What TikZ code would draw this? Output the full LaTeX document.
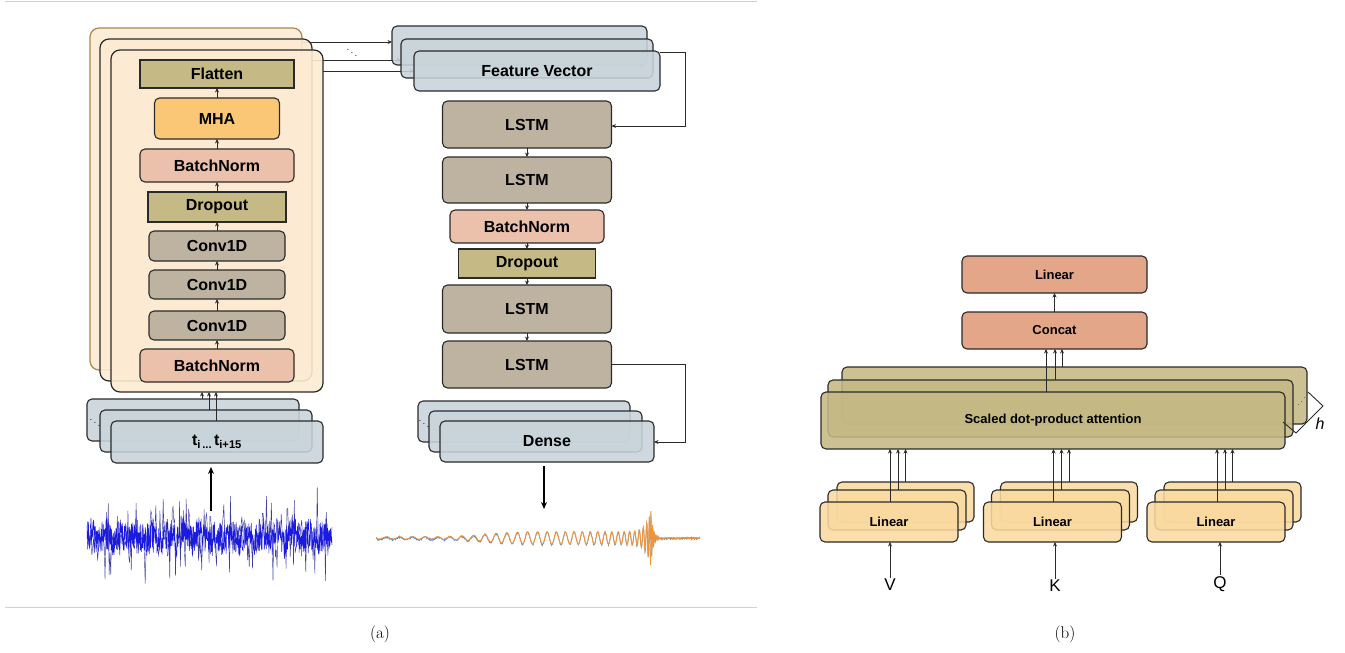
\documentclass[tikz,border=0pt]{standalone}
\usepackage{fontspec}
\newfontfamily\arialf{Liberation Sans}
\usetikzlibrary{arrows.meta,backgrounds}
\definecolor{edge}{HTML}{2A2A2A}
\definecolor{cream}{HTML}{FCEBD2}
\definecolor{cardedge}{HTML}{A88654}
\definecolor{olivebox}{HTML}{C5BA86}
\definecolor{mhacol}{HTML}{F9C776}
\definecolor{bnpink}{HTML}{ECC1AB}
\definecolor{convcol}{HTML}{BDB3A0}
\definecolor{bluegray}{HTML}{C8D3DA}
\definecolor{salmon}{HTML}{E3A689}
\definecolor{attncol}{HTML}{C4B884}
\definecolor{linbox}{HTML}{F9D9A0}
\definecolor{noiseblue}{HTML}{1A1AE0}
\definecolor{noisenavy}{HTML}{3F3FA0}
\definecolor{waveorange}{HTML}{F29335}
\definecolor{waveblue}{HTML}{4A88C8}
\definecolor{framegray}{HTML}{D0D0D0}
\begin{document}
\begin{tikzpicture}[x=1pt,y=-1pt,
  box/.style={draw=edge, line width=1.1pt, rounded corners=5pt, inner sep=0pt, outer sep=0pt,
    text=black, text opacity=1, font=\arialf\bfseries\fontsize{16}{18}\selectfont},
  sqbox/.style={box, rounded corners=0pt},
  stk/.style={box, fill opacity=0.88},
  rbox/.style={box, font=\arialf\bfseries\fontsize{13}{15}\selectfont},
  rstk/.style={rbox, fill opacity=0.88},
  card/.style={draw=edge, line width=1.2pt, rounded corners=9pt, fill=cream, fill opacity=0.9,
    minimum width=212pt, minimum height=342pt, inner sep=0pt, outer sep=0pt},
  arr/.style={-{Stealth[length=4.5pt,width=4pt]}, line width=1pt, draw=edge},
  bigarr/.style={-{Stealth[length=7pt,width=6pt]}, line width=1.7pt, draw=black},
  lbl/.style={font=\arialf\fontsize{17}{20}\selectfont, inner sep=1pt},
  captxt/.style={font=\fontsize{17}{19}\selectfont},
  declare function={chirpA(\x)=1.2+5/(1+exp(-(\x-485)/14))+28*exp(-(652-\x)/5);
                    chirpP(\x)=-6.09*pow(652-\x,0.625);}
]
\useasboundingbox (0,0) rectangle (1345,653);

% frame lines
\draw[framegray, line width=1pt] (5,1) -- (757,1);
\draw[framegray, line width=1pt] (5,607) -- (757,607);

% ---------------- panel (a), left stack ----------------
\node[card, draw=cardedge] (cardA) at (196,199) {};
\node[card] (cardB) at (206,210) {};
\node[card] (cardC) at (217,221) {};

\node[sqbox, fill=olivebox, minimum width=154pt, minimum height=28pt] (flat) at (217,74) {Flatten};
\node[box, fill=mhacol, minimum width=125pt, minimum height=41pt] (mha) at (217,118.5) {MHA};
\node[box, fill=bnpink, minimum width=154pt, minimum height=33pt] (bn1) at (217,165.5) {BatchNorm};
\node[sqbox, fill=olivebox, minimum width=138pt, minimum height=30pt] (dr1) at (217,207) {Dropout};
\node[box, fill=convcol, minimum width=136pt, minimum height=30pt] (cv1) at (217,246) {Conv1D};
\node[box, fill=convcol, minimum width=136pt, minimum height=29pt] (cv2) at (217,284.5) {Conv1D};
\node[box, fill=convcol, minimum width=136pt, minimum height=29pt] (cv3) at (217,325.5) {Conv1D};
\node[box, fill=bnpink, minimum width=154pt, minimum height=33pt] (bn0) at (217,365.5) {BatchNorm};

\draw[arr] (bn0.north) -- (cv3.south);
\draw[arr] (cv3.north) -- (cv2.south);
\draw[arr] (cv2.north) -- (cv1.south);
\draw[arr] (cv1.north) -- (dr1.south);
\draw[arr] (dr1.north) -- (bn1.south);
\draw[arr] (bn1.north) -- (mha.south);
\draw[arr] (mha.north) -- (flat.south);

% input stack
\node[stk, fill=bluegray, minimum width=212pt, minimum height=42pt] (in1) at (193,420) {};
\node[stk, fill=bluegray, minimum width=212pt, minimum height=42pt] (in2) at (206,431) {};
\node[stk, fill=bluegray, minimum width=212pt, minimum height=42pt] (in3) at (217,442) {t\textsubscript{i\,...\,}t\textsubscript{i+15}};
\node[font=\fontsize{10}{10}\selectfont, inner sep=0pt] (indots) at (95,420) {$\ddots$};

\draw[arr] (in1.north -| 202,0) -- (cardC.south -| 202,0);
\draw[arr] (in2.north -| 209,0) -- (cardC.south -| 209,0);
\draw[arr] (in3.north -| 216,0) -- (cardC.south -| 216,0);

% noise
\coordinate (noisetop) at (211,511);
\draw[bigarr, shorten >=4pt] (noisetop) -- (in3.south -| noisetop);
\pgfmathsetseed{11}
\draw[noisenavy, line width=0.45pt] plot[domain=87:332, samples=300] (\x,{537+52*rand*abs(rand)});
\draw[noiseblue, line width=0.5pt] plot[domain=87:332, samples=800] (\x,{537+16*rand+4*sin(\x*23)});

% ---------------- panel (a), right column ----------------
\node[stk, fill=bluegray, minimum width=255pt, minimum height=39pt] (fv1) at (519.5,45.5) {};
\node[stk, fill=bluegray, minimum width=252pt, minimum height=39pt] (fv2) at (527,58.5) {};
\node[stk, fill=bluegray, minimum width=246pt, minimum height=40pt] (fv3) at (537,71) {Feature Vector};

\begin{pgfonlayer}{background}
\draw[arr] (cardA.east |- 0,42) -- (fv1.west |- 0,42);
\draw[arr] (cardB.east |- 0,60) -- (fv2.west |- 0,60);
\draw[arr] (cardC.east |- 0,71) -- (fv3.west |- 0,71);
\end{pgfonlayer}
\node[font=\fontsize{10}{10}\selectfont, inner sep=0pt] (cdots) at (352,50) {$\ddots$};

\node[box, fill=convcol, minimum width=169pt, minimum height=47pt] (l1) at (527,124.5) {LSTM};
\node[box, fill=convcol, minimum width=169pt, minimum height=46pt] (l2) at (527,180) {LSTM};
\node[box, fill=bnpink, minimum width=154pt, minimum height=33pt] (bn2) at (527,226.5) {BatchNorm};
\node[sqbox, fill=olivebox, minimum width=137pt, minimum height=29pt] (dr2) at (527,263.5) {Dropout};
\node[box, fill=convcol, minimum width=169pt, minimum height=48pt] (l3) at (527,309) {LSTM};
\node[box, fill=convcol, minimum width=169pt, minimum height=47pt] (l4) at (527,364.5) {LSTM};

\draw[arr] (l1.south) -- (l2.north);
\draw[arr] (l2.south) -- (bn2.north);
\draw[arr] (bn2.south) -- (dr2.north);
\draw[arr] (dr2.south) -- (l3.north);
\draw[arr] (l3.south) -- (l4.north);

\draw[arr] (fv3.east |- 0,52) -| (685,126) -- (l1.east |- 0,126);

\node[stk, fill=bluegray, minimum width=212pt, minimum height=41pt] (dn1) at (524,421.5) {};
\node[stk, fill=bluegray, minimum width=213pt, minimum height=41pt] (dn2) at (535.5,431.5) {};
\node[stk, fill=bluegray, minimum width=214pt, minimum height=41pt] (dn3) at (547,441.5) {Dense};
\node[font=\fontsize{10}{10}\selectfont, inner sep=0pt] (dndots) at (424,421) {$\ddots$};

\draw[arr] (l4.east |- 0,364) -| (685,442) -- (dn3.east |- 0,442);

\coordinate (wavetop) at (544,509);
\draw[bigarr, shorten <=4pt] (dn3.south -| wavetop) -- (wavetop);

% waveform
\pgfmathsetseed{5}
\draw[waveblue, line width=0.6pt] plot[domain=376:650.5, samples=700] (\x,{538.5-chirpA(\x)*sin(deg(chirpP(\x)))+1.0*rand});
\draw[waveblue, line width=0.6pt] plot[domain=650.5:700, samples=120] (\x,{538.5-30*exp(-(\x-650.5)/2.5)*sin(deg(3.6*(\x-650.5)))+1.0*rand});
\draw[waveorange, line width=0.9pt] plot[domain=376:650.5, samples=700] (\x,{538-chirpA(\x)*sin(deg(chirpP(\x)))});
\draw[waveorange, line width=0.9pt] plot[domain=650.5:700, samples=120] (\x,{538-32*exp(-(\x-650.5)/2.5)*sin(deg(3.6*(\x-650.5)))+0.6*rand});

% ---------------- panel (b) ----------------
\node[rbox, fill=salmon, minimum width=185pt, minimum height=37pt] (lin) at (1054.5,274.5) {Linear};
\node[rbox, fill=salmon, minimum width=185pt, minimum height=37pt] (cat) at (1054.5,330.5) {Concat};
\draw[arr] (cat.north) -- (lin.south);

\node[rstk, fill=attncol, minimum width=465pt, minimum height=57pt] (sd1) at (1074.5,395.5) {};
\node[rstk, fill=attncol, minimum width=465pt, minimum height=57pt] (sd2) at (1060.5,408.5) {};
\node[rstk, fill=attncol, minimum width=464pt, minimum height=57pt] (sd3) at (1053,420.5) {Scaled dot-product attention};

\draw[arr] (1046,0 |- sd3.north) -- (1046,0 |- cat.south);
\draw[arr] (1055,0 |- sd2.north) -- (1055,0 |- cat.south);
\draw[arr] (1062,0 |- sd1.north) -- (1062,0 |- cat.south);

\node[font=\fontsize{9}{9}\selectfont, inner sep=0pt, rotate=90] (sddots) at (1299,402) {$\ddots$};
\coordinate (brA) at (1308,392);
\coordinate (brB) at (1323,406);
\coordinate (brC) at (1296,433);
\coordinate (brD) at (1283,422);
\draw[line width=0.9pt, edge] (brA) -- (brB) -- (brC) -- (brD);
\node[font=\arialf\itshape\fontsize{16}{18}\selectfont, inner sep=0pt] (hlbl) at (1320,424) {h};

% Linear groups
\foreach \nm/\dx in {v/0, k/163.5, q/327}{
  \node[rstk, fill=linbox, minimum width=137pt, minimum height=40pt] (\nm1) at (905.5+\dx,502) {};
  \node[rstk, fill=linbox, minimum width=138pt, minimum height=40pt] (\nm2) at (897+\dx,510) {};
  \node[rstk, fill=linbox, minimum width=138pt, minimum height=40pt] (\nm3) at (889+\dx,522) {Linear};
  \draw[arr] ([xshift=1pt]\nm3.north) -- ([xshift=1pt]\nm3.north |- sd3.south);
  \draw[arr] ([xshift=1pt]\nm2.north) -- ([xshift=1pt]\nm2.north |- sd3.south);
  \draw[arr] (\nm1.north) -- (\nm1.north |- sd3.south);
}

\node[lbl, anchor=north] (vl) at (890,578) {V};
\node[lbl, anchor=north] (kl) at (1055,579) {K};
\node[lbl, anchor=north] (ql) at (1220,575) {Q};
\draw[arr] (vl.north) -- (vl.north |- v3.south);
\draw[arr] (kl.north) -- (kl.north |- k3.south);
\draw[arr] (ql.north) -- (ql.north |- q3.south);

% captions
\node[captxt] (capa) at (380,634) {(a)};
\node[captxt] (capb) at (1065,634) {(b)};
\end{tikzpicture}
\end{document}
